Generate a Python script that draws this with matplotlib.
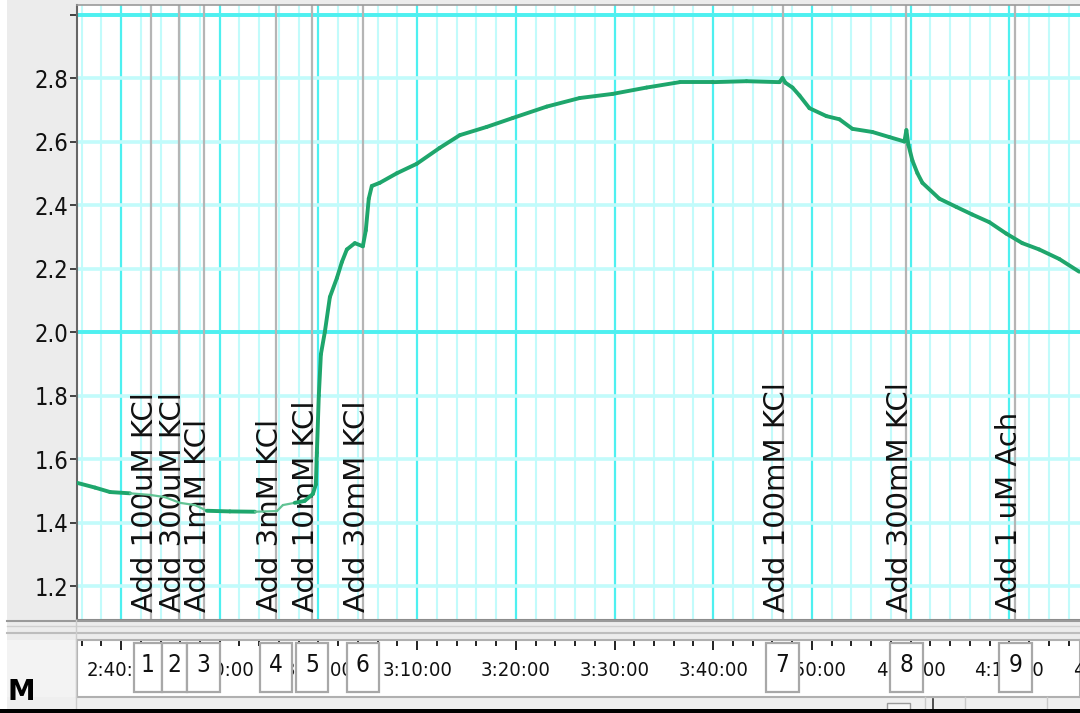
import numpy as np
import matplotlib
matplotlib.use("Agg")
import matplotlib.pyplot as plt
from matplotlib import font_manager
from matplotlib.transforms import blended_transform_factory, offset_copy
from matplotlib.patches import Rectangle
from matplotlib.lines import Line2D
from matplotlib.collections import LineCollection

# ---------------- data ----------------
# time in minutes after 2:40:00, signal value
t_min = [-4.45, -2.63, -1.11, 0.91, 2.94, 4.45, 5.97, 7.49, 8.70, 11.03, 13.57,
         15.79, 16.40, 17.60, 18.60, 19.44, 19.74, 19.84, 20.04, 20.25, 20.65,
         21.16, 21.87, 22.37, 22.88, 23.69, 24.50, 24.80, 25.10, 25.41, 26.22,
         27.94, 29.97, 32.29, 34.32, 37.05, 39.68, 43.13, 46.47, 49.81, 53.25,
         56.59, 59.93, 63.37, 66.71, 67.02, 67.32, 68.03, 68.74, 69.75, 71.47,
         72.79, 74.10, 76.13, 77.85, 79.37, 79.57, 79.77, 80.18, 80.69, 81.19,
         82.91, 84.63, 86.25, 87.97, 89.69, 91.31, 93.03, 95.06, 97.08]
signal = [1.525, 1.510, 1.496, 1.492, 1.487, 1.480, 1.462, 1.455, 1.437, 1.435, 1.434,
          1.436, 1.455, 1.462, 1.468, 1.490, 1.520, 1.620, 1.800, 1.930, 2.000,
          2.110, 2.170, 2.220, 2.260, 2.280, 2.270, 2.320, 2.420, 2.460, 2.470,
          2.500, 2.530, 2.580, 2.620, 2.646, 2.674, 2.710, 2.737, 2.750, 2.770,
          2.787, 2.787, 2.790, 2.787, 2.800, 2.785, 2.770, 2.745, 2.705, 2.680,
          2.670, 2.640, 2.630, 2.614, 2.600, 2.636, 2.590, 2.540, 2.500, 2.470,
          2.420, 2.394, 2.370, 2.346, 2.310, 2.280, 2.260, 2.230, 2.190]

event_t = [3.04, 5.87, 8.40, 15.69, 19.34, 24.50, 67.02, 79.57, 90.60]
event_labels = ["Add 100uM KCl", "Add 300uM KCl", "Add 1mM KCl", "Add 3mM KCl",
                "Add 10mM KCl", "Add 30mM KCl", "Add 100mM KCl", "Add 300mM KCl",
                "Add 1 uM Ach"]
event_ids = ["1", "2", "3", "4", "5", "6", "7", "8", "9"]

time_tick_min = [0, 10, 20, 30, 40, 50, 60, 70, 80, 90, 100]
y_ticks = [1.2, 1.4, 1.6, 1.8, 2.0, 2.2, 2.4, 2.6, 2.8, 3.0]
y_tick_labels = ["1.2", "1.4", "1.6", "1.8", "2.0", "2.2", "2.4", "2.6", "2.8", ""]


def fmt_time(m):
    total = 2 * 60 + 40 + m
    return f"{total // 60}:{total % 60:02d}:00"


# ---------------- fonts (prefer a narrow face for axis numbers) ----------------
def find_narrow():
    prefs = [("LiberationSansNarrow-Regular", 19, 17),
             ("DejaVuSansCondensed.ttf", 17, 13.5),
             ("RobotoCondensed-Regular", 18, 15),
             ("NotoSans-CondensedRegular", 18, 15),
             ("NotoSans-Condensed.ttf", 18, 15),
             ("OpenSans_Condensed-Regular", 18, 15)]
    files = [f.fname for f in font_manager.fontManager.ttflist]
    for key, s1, s2 in prefs:
        for fn in files:
            if key.lower() in fn.lower():
                return font_manager.FontProperties(fname=fn), s1, s2
    return font_manager.FontProperties(family="DejaVu Sans"), 16, 12.5


NARROW_FP, NSIZE, TSIZE = find_narrow()


def nfp(size):
    fp = NARROW_FP.copy()
    fp.set_size(size)
    return fp


# ---------------- layout ----------------
W, H = 1080, 713
fig = plt.figure(figsize=(10.8, 7.13), dpi=100, facecolor="#ececec")


def fx(px):
    return px / W


def fy(py):
    return 1 - py / H


def frect(x0, y0, x1, y1, **kw):
    fig.add_artist(Rectangle((fx(x0), fy(y1)), fx(x1) - fx(x0), fy(y0) - fy(y1),
                             transform=fig.transFigure, **kw))


def fline(x0, y0, x1, y1, **kw):
    fig.add_artist(Line2D([fx(x0), fx(x1)], [fy(y0), fy(y1)],
                          transform=fig.transFigure, **kw))


# background panels
frect(0, 0, 7, 713, facecolor="white", edgecolor="none", zorder=0)
frect(7, 640, 77, 697, facecolor="#f3f3f3", edgecolor="none", zorder=0)
frect(7, 697, 1080, 710, facecolor="#efefef", edgecolor="none", zorder=0)

XLIM = (-4.46, 97.16)

# main plot
ax = fig.add_axes([fx(77), fy(620), fx(1080) - fx(77), fy(5) - fy(620)])
ax.set_facecolor("white")
ax.set_xlim(*XLIM)
ax.set_ylim(1.093, 3.03)
ax.set_axisbelow(True)

ax.set_xticks(np.arange(0, 100, 10))
ax.set_xticks(np.arange(-4, 98, 2), minor=True)
ax.grid(which="minor", axis="x", color="#c2fbfb", lw=1.5)
ax.grid(which="major", axis="x", color="#4ef0f0", lw=1.6)
ax.set_yticks(y_ticks)
ax.set_yticklabels(y_tick_labels, fontproperties=nfp(NSIZE))
ax.grid(which="major", axis="y", color="#c2fbfb", lw=2.6)
for yv in (2.0, 3.0):
    ax.axhline(yv, color="#4ef0f0", lw=2.8, zorder=1)

ax.tick_params(axis="x", which="both", length=0, labelbottom=False)
ax.tick_params(axis="y", which="major", length=5, width=1.3, color="#333333",
               pad=1, labelcolor="#111111")
ax.spines["right"].set_visible(False)
ax.spines["left"].set_color("#666666")
ax.spines["left"].set_linewidth(1.5)
ax.spines["top"].set_color("#9a9a9a")
ax.spines["top"].set_linewidth(1.2)
ax.spines["bottom"].set_color("#8c8c8c")
ax.spines["bottom"].set_linewidth(1.5)

# event markers and comments
blend = blended_transform_factory(ax.transData, ax.transAxes)
lab_tr = offset_copy(blend, fig=fig, x=-6, y=0, units="dots")
for t, lbl in zip(event_t, event_labels):
    ax.axvline(t, color="#b5b5b5", lw=1.6, zorder=1.6)
    ax.text(t, 0.013, lbl, rotation=90, ha="center", va="bottom",
            transform=lab_tr, fontsize=21, family="DejaVu Sans",
            color="#111111", zorder=4)

# trace (thin, paler stretches where the recording was quiet)
thin_ranges = [(1.0, 8.6), (14.0, 17.2)]
pts = np.column_stack([t_min, signal])
segs = np.stack([pts[:-1], pts[1:]], axis=1)
mids = (pts[:-1, 0] + pts[1:, 0]) / 2
is_thin = np.zeros(len(mids), dtype=bool)
for a, b in thin_ranges:
    is_thin |= (mids > a) & (mids < b)
lws = np.where(is_thin, 1.6, 2.8)
cols = ["#62c394" if th else "#1ea66c" for th in is_thin]
ax.add_collection(LineCollection(segs, linewidths=lws, colors=cols, zorder=5,
                                 capstyle="round", joinstyle="round"))

# time strip
ax2 = fig.add_axes([fx(77), fy(697), fx(1080) - fx(77), fy(640) - fy(697)])
ax2.set_facecolor("white")
ax2.set_xlim(*XLIM)
ax2.set_ylim(0, 1)
ax2.set_yticks([])
ax2.set_xticks(np.arange(0, 100, 10))
ax2.set_xticks(np.arange(-4, 98, 2), minor=True)
ax2.tick_params(axis="x", which="both", direction="in", top=True, bottom=False,
                labelbottom=False, color="#222222", width=1.4)
ax2.tick_params(axis="x", which="major", length=7)
ax2.tick_params(axis="x", which="minor", length=4)
for s in ax2.spines.values():
    s.set_color("#b0b0b0")
    s.set_linewidth(1.5)

for m in time_tick_min:
    ax2.text(m, 0.46, fmt_time(m), ha="center", va="center",
             fontproperties=nfp(TSIZE + 1), color="#111111", zorder=3, clip_on=True)

box_shift = [-0.31, -0.45, -0.05, 0, 0, 0, 0, 0, 0]
box_w = [2.85, 2.55, 3.3, 3.3, 3.3, 3.3, 3.3, 3.3, 3.3]
btr = blended_transform_factory(ax2.transData, ax2.transAxes)
for t, sh, w, num in zip(event_t, box_shift, box_w, event_ids):
    c = t + sh
    ax2.add_patch(Rectangle((c - w / 2, 0.09), w, 0.86, transform=btr,
                            facecolor="white", edgecolor="#a8a8a8", lw=1.6,
                            zorder=4, clip_on=False))
    ax2.text(c, 0.56, num, transform=btr, ha="center", va="center",
             fontproperties=nfp(TSIZE + 4), color="#111111", zorder=5)

# separator band lines
fline(7, 621, 1080, 621, color="#9a9a9a", lw=1.5)
fline(7, 626, 1080, 626, color="#cfcfcf", lw=1.0)
fline(7, 633, 1080, 633, color="#bdbdbd", lw=1.5)
fline(76, 620, 76, 710, color="#cccccc", lw=1.0)

# bottom controls
frect(887, 703, 910, 712, facecolor="#f6f6f6", edgecolor="#9a9a9a", lw=1.0, zorder=2)
for xx in (925, 965, 1047):
    fline(xx, 697, xx, 710, color="#c8c8c8", lw=1.0)
fline(933, 699, 933, 710, color="#333333", lw=1.2)

fig.text(fx(8), fy(692), "M", fontsize=20, fontweight="bold", family="DejaVu Sans",
         ha="left", va="center", color="black")
frect(0, 709, 1080, 713, facecolor="black", edgecolor="none", zorder=10)

fig.savefig("out.png", dpi=100, facecolor=fig.get_facecolor())
